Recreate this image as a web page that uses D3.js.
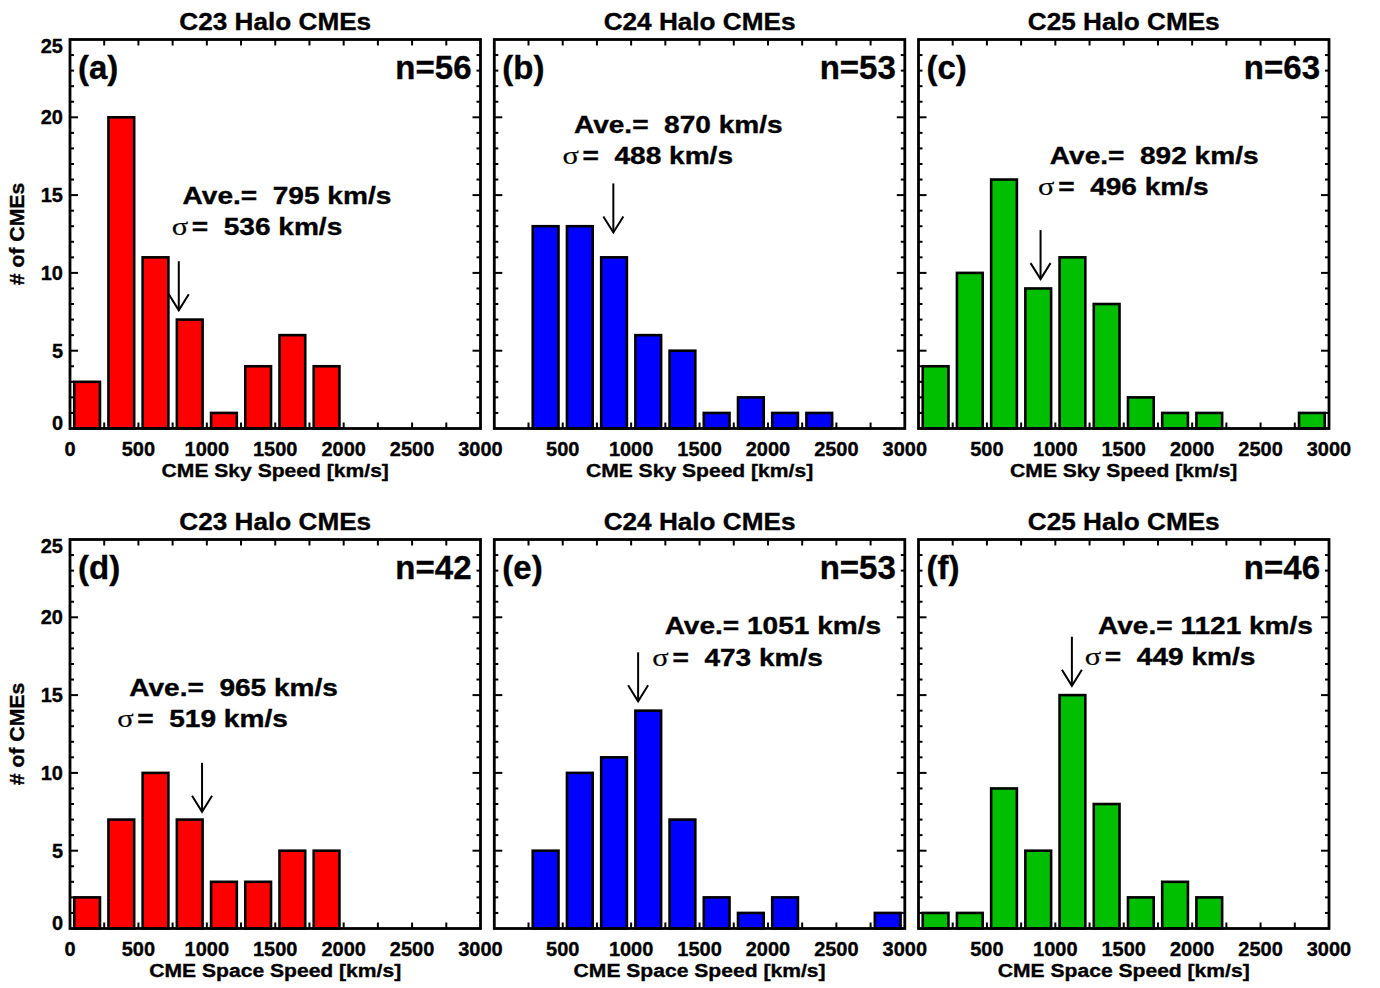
<!DOCTYPE html>
<html>
<head>
<meta charset="utf-8">
<script src="https://cdn.jsdelivr.net/npm/d3@7"></script>
<style>
  html, body { margin: 0; padding: 0; background: #fff; }
  svg { display: block; }
  text { font-family: "Liberation Sans", Arial, Helvetica, sans-serif; font-weight: bold; fill: #000; white-space: pre; stroke: #000; stroke-width: 0.35; }
  .sig { font-family: "Liberation Serif", "DejaVu Serif", serif; font-weight: normal; stroke-width: 0.2; }
</style>
</head>
<body>
<svg id="chart" width="1380" height="988"></svg>
<script>
// ---------- DATA ----------
const binStarts = [0, 250, 500, 750, 1000, 1250, 1500, 1750, 2000, 2250, 2500, 2750];
const binWidth = 250;

const skyC23   = [3, 20, 11, 7, 1, 4, 6, 4, 0, 0, 0, 0];
const skyC24   = [0, 13, 13, 11, 6, 5, 1, 2, 1, 1, 0, 0];
const skyC25   = [4, 10, 16, 9, 11, 8, 2, 1, 1, 0, 0, 1];
const spaceC23 = [2, 7, 10, 7, 3, 3, 5, 5, 0, 0, 0, 0];
const spaceC24 = [0, 5, 10, 11, 14, 7, 2, 1, 2, 0, 0, 1];
const spaceC25 = [1, 1, 9, 5, 15, 8, 2, 3, 2, 0, 0, 0];

const panelSeries = [skyC23, skyC24, skyC25, spaceC23, spaceC24, spaceC25];
const panelLabels = ["(a)", "(b)", "(c)", "(d)", "(e)", "(f)"];
const sampleSizes = [56, 53, 63, 42, 53, 46];
const averages    = [795, 870, 892, 965, 1051, 1121];
const sigmas      = [536, 488, 496, 519, 473, 449];

const cycleTitles = ["C23 Halo CMEs", "C24 Halo CMEs", "C25 Halo CMEs"];
const xAxisTitles = ["CME Sky Speed [km/s]", "CME Space Speed [km/s]"];
const yAxisTitle  = "# of CMEs";
const xTickLabels = [0, 500, 1000, 1500, 2000, 2500, 3000];
const yTickLabels = [0, 5, 10, 15, 20, 25];

// ---------- ANNOTATION PLACEMENT (data units) ----------
const arrowTip   = [7.6, 12.6, 9.6, 7.5, 14.6, 15.6];
const arrowLen   = 3.15;
const aveTextX   = [823, 582, 960, 433, 1245, 1312];
const aveTextY   = [14.4, 19.0, 17.0, 14.95, 18.95, 18.95];
const sigTextX   = [743, 498, 874, 345, 1155, 1215];
const sigTextY   = [12.45, 17.0, 15.0, 12.95, 16.9, 16.95];

// ---------- STYLE / LAYOUT ----------
const cycleColors = ["#ff0000", "#0000ff", "#00bf00"];
const colX0 = [70, 494.3, 918.5];
const rowY0 = [39.5, 539.5];
const pw = 410.5, ph = 389;

const svg = d3.select("#chart");

function stretchedText(sel, px, py, sx) {
  return sel.append("text").attr("transform", `translate(${px},${py}) scale(${sx},1)`);
}

panelSeries.forEach((series, i) => {
  const col = i % 3, row = Math.floor(i / 3);
  const x0 = colX0[col], y0 = rowY0[row];
  const g = svg.append("g").attr("transform", `translate(${x0},${y0})`);

  const x = d3.scaleLinear().domain([0, 3000]).range([0, pw]);
  const y = d3.scaleLinear().domain([0, 25]).range([ph, 0]);

  // bars
  const bins = binStarts.map((s, k) => ({ s, v: series[k] })).filter(d => d.v > 0);
  g.selectAll("rect.bar").data(bins).enter().append("rect")
    .attr("class", "bar")
    .attr("x", d => x(d.s + 31))
    .attr("width", d => x(d.s + binWidth - 31) - x(d.s + 31))
    .attr("y", d => y(d.v))
    .attr("height", d => y(0) - y(d.v))
    .attr("fill", cycleColors[col])
    .attr("stroke", "#000")
    .attr("stroke-width", 2.6);

  // x ticks (every 250) bottom and top
  const xt = d3.range(250, 3000, 250);
  g.selectAll("line.xtb").data(xt).enter().append("line")
    .attr("x1", d => x(d)).attr("x2", d => x(d))
    .attr("y1", ph).attr("y2", ph - 6)
    .attr("stroke", "#000").attr("stroke-width", 2);
  g.selectAll("line.xtt").data(xt).enter().append("line")
    .attr("x1", d => x(d)).attr("x2", d => x(d))
    .attr("y1", 0).attr("y2", 6)
    .attr("stroke", "#000").attr("stroke-width", 2);

  // y ticks (minor every 1, major every 5) left and right
  const yt = d3.range(1, 25, 1);
  const tl = d => (d % 5 === 0 ? 8 : 4);
  g.selectAll("line.ytl").data(yt).enter().append("line")
    .attr("x1", 0).attr("x2", d => tl(d))
    .attr("y1", d => y(d)).attr("y2", d => y(d))
    .attr("stroke", "#000").attr("stroke-width", 2);
  g.selectAll("line.ytr").data(yt).enter().append("line")
    .attr("x1", pw).attr("x2", d => pw - tl(d))
    .attr("y1", d => y(d)).attr("y2", d => y(d))
    .attr("stroke", "#000").attr("stroke-width", 2);

  // frame
  g.append("rect").attr("x", 0).attr("y", 0).attr("width", pw).attr("height", ph)
    .attr("fill", "none").attr("stroke", "#000").attr("stroke-width", 2.8);

  // x tick labels
  const xl = col === 0 ? xTickLabels : xTickLabels.filter(v => v !== 0);
  g.selectAll("text.xl").data(xl).enter().append("text")
    .attr("x", d => x(d)).attr("y", ph + 27)
    .attr("text-anchor", "middle").attr("font-size", 20)
    .text(d => d);

  // y tick labels (left column only)
  if (col === 0) {
    g.selectAll("text.yl").data(yTickLabels).enter().append("text")
      .attr("x", -7)
      .attr("y", d => y(d) + 7 + (d === 0 ? -6 : 0) + (d === 25 ? 6 : 0))
      .attr("text-anchor", "end").attr("font-size", 20)
      .text(d => d);
    svg.append("text")
      .attr("transform", `translate(24,${y0 + ph / 2}) rotate(-90) scale(1.06,1)`)
      .attr("text-anchor", "middle").attr("font-size", 20)
      .text(yAxisTitle);
  }

  // x axis title
  stretchedText(g, pw / 2, ph + 48, 1.11)
    .attr("text-anchor", "middle").attr("font-size", 19)
    .text(xAxisTitles[row]);

  // panel title
  stretchedText(g, pw / 2, -10, 1.09)
    .attr("text-anchor", "middle").attr("font-size", 24)
    .text(cycleTitles[col]);

  // panel letter and n
  g.append("text").attr("x", 8).attr("y", 39.5).attr("font-size", 33)
    .text(panelLabels[i]);
  g.append("text").attr("x", pw - 9).attr("y", 39.5).attr("font-size", 33)
    .attr("text-anchor", "end")
    .text("n=" + sampleSizes[i]);

  // arrow at average
  const ax = x(averages[i]);
  const tipY = y(arrowTip[i]), tailY = y(arrowTip[i] + arrowLen);
  g.append("line").attr("x1", ax).attr("x2", ax).attr("y1", tailY).attr("y2", tipY)
    .attr("stroke", "#000").attr("stroke-width", 2);
  g.append("path")
    .attr("d", `M${ax - 10},${tipY - 16} L${ax},${tipY} L${ax + 10},${tipY - 16}`)
    .attr("fill", "none").attr("stroke", "#000").attr("stroke-width", 2);

  // annotation text
  stretchedText(g, x(aveTextX[i]), y(aveTextY[i]), 1.22)
    .attr("font-size", 23)
    .text("Ave.=" + String(averages[i]).padStart(5, " ") + " km/s");
  const st = stretchedText(g, x(sigTextX[i]), y(sigTextY[i]), 1.22)
    .attr("font-size", 23);
  st.append("tspan").attr("class", "sig").attr("font-size", 25).text("σ");
  st.append("tspan").attr("dx", 3).text("=" + String(sigmas[i]).padStart(5, " ") + " km/s");
});
</script>
</body>
</html>
